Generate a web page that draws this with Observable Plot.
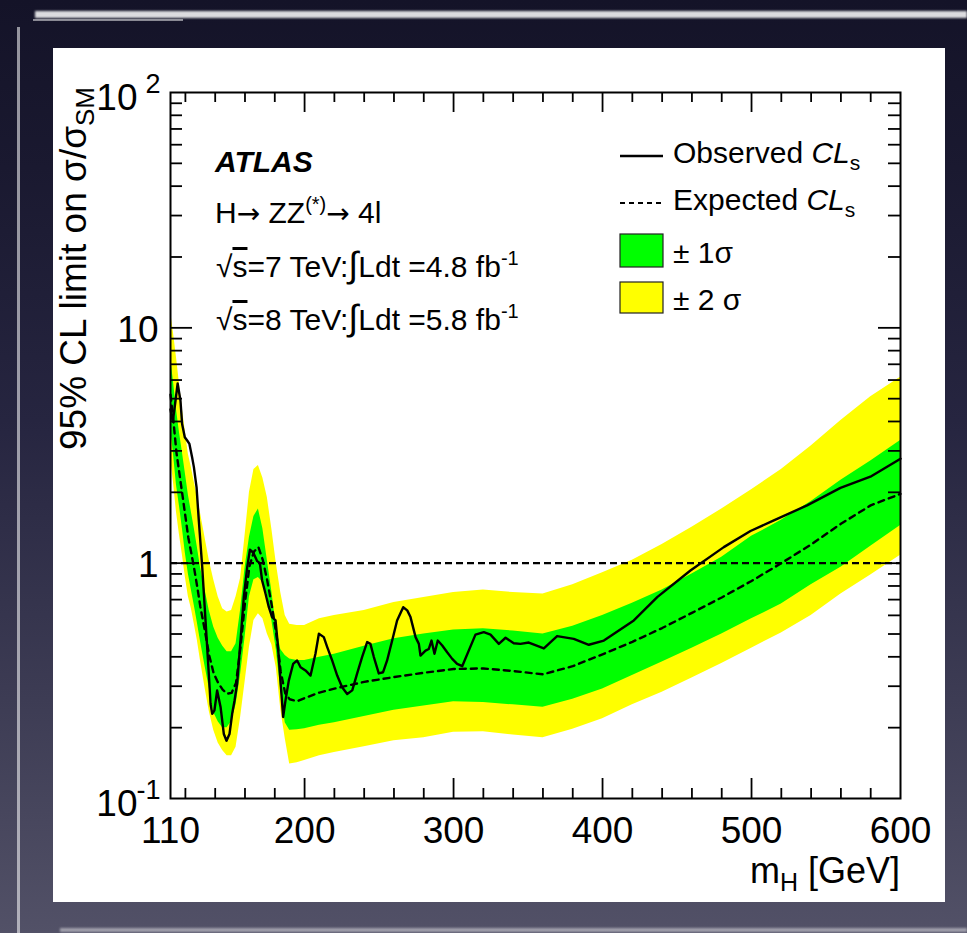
<!DOCTYPE html>
<html>
<head>
<meta charset="utf-8">
<script src="https://cdn.jsdelivr.net/npm/d3@7"></script>
<script src="https://cdn.jsdelivr.net/npm/@observablehq/plot@0.6"></script>
<style>
  html, body { margin: 0; padding: 0; }
  body {
    width: 967px; height: 933px; overflow: hidden; position: relative;
    background: linear-gradient(180deg, #141328 0%, #1a1930 18%, #262540 45%, #3d3c54 75%, #525167 100%);
    font-family: "Liberation Sans", Arial, Helvetica, sans-serif;
  }
  .chalk { position: absolute; background: #fff; }
  #panel { position: absolute; left: 53px; top: 48px; width: 892px; height: 854px; background: #fff; }
  #chart { position: absolute; left: 0; top: 0; width: 967px; height: 933px; }
</style>
</head>
<body>
<div class="chalk" style="left:35px; top:11px; width:932px; height:7px; opacity:.85; filter:blur(1px)"></div>
<div class="chalk" style="left:33px; top:19px; width:150px; height:2px; opacity:.5; filter:blur(.6px)"></div>
<div class="chalk" style="left:17px; top:27px; width:3px; height:906px; opacity:.55; filter:blur(.7px)"></div>
<div class="chalk" style="left:60px; top:928px; width:907px; height:4px; opacity:.45; filter:blur(1px)"></div>
<div id="panel"></div>
<div id="chart"></div>
<script>
// Higgs mass grid (GeV) on which the expected limit and its bands are sampled
const bandMass = [110,112,114,116,118,120,122,124,126,128,130,133,136,139,142,145,148,151,154,157,
  160,163,166,169,172,175,178,181,184,187,190,195,200,210,220,240,260,280,300,320,
  340,360,380,400,420,440,460,480,500,520,540,560,580,600];

// Expected 95% CL limit on sigma/sigma_SM (median)
const expectedLimit = [5.2,4.0,2.95,2.4,1.95,1.58,1.28,1.1,0.94,0.79,0.655,0.52,0.405,0.34,0.31,0.29,0.279,0.281,0.31,0.44,
  0.68,0.97,1.12,1.17,1.03,0.84,0.66,0.50,0.345,0.28,0.264,0.259,0.267,0.282,0.293,0.313,0.328,0.342,0.355,0.357,
  0.348,0.337,0.365,0.41,0.463,0.53,0.615,0.715,0.84,1.0,1.2,1.47,1.76,1.97];

// ±1 sigma band edges
const band1Low = [3.78,2.9,2.15,1.75,1.40,1.10,0.90,0.77,0.66,0.56,0.47,0.37,0.295,0.232,0.212,0.2,0.2,0.213,0.25,0.335,
  0.48,0.72,0.85,0.87,0.83,0.735,0.57,0.43,0.29,0.21,0.195,0.196,0.198,0.205,0.21,0.223,0.237,0.247,0.258,0.256,
  0.25,0.244,0.264,0.292,0.333,0.38,0.435,0.50,0.58,0.67,0.81,0.962,1.18,1.445];
const band1High = [7.5,5.9,4.5,3.6,2.95,2.4,1.95,1.65,1.4,1.17,0.97,0.78,0.63,0.535,0.48,0.445,0.42,0.42,0.455,0.63,
  0.95,1.29,1.58,1.70,1.40,1.03,0.76,0.54,0.43,0.405,0.392,0.386,0.386,0.398,0.41,0.444,0.477,0.50,0.52,0.526,
  0.515,0.50,0.54,0.60,0.675,0.77,0.90,1.06,1.30,1.52,1.83,2.25,2.72,3.32];

// ±2 sigma band edges
const band2Low = [2.82,2.2,1.65,1.32,1.08,0.87,0.72,0.64,0.55,0.47,0.39,0.30,0.235,0.195,0.172,0.16,0.152,0.152,0.165,0.22,
  0.31,0.44,0.571,0.61,0.58,0.5,0.45,0.36,0.24,0.18,0.14,0.142,0.145,0.152,0.157,0.166,0.176,0.181,0.191,0.192,
  0.186,0.181,0.197,0.218,0.25,0.283,0.325,0.375,0.435,0.505,0.6,0.74,0.89,1.08];
const band2High = [11.8,9.5,7.5,5.8,4.5,3.6,2.9,2.55,2.2,1.92,1.65,1.3,1.03,0.85,0.72,0.64,0.62,0.63,0.72,0.86,
  1.3,2.0,2.5,2.6,2.3,1.9,1.4,1.0,0.75,0.6,0.55,0.543,0.543,0.58,0.60,0.63,0.68,0.715,0.75,0.77,
  0.75,0.74,0.81,0.91,1.03,1.2,1.42,1.7,2.05,2.5,3.15,4.04,5.1,6.17];

// Observed limit
const observedMass = [110,111.5,113,114.8,116.7,117.8,119.6,121.2,122.7,124.5,
  125.7,127.5,129,131.3,133.5,135.7,136.9,138,139.5,141.3,
  143.6,145.8,147.6,149.6,151.4,153,154.7,157,159.2,161.5,
  163.3,165.5,168.2,170,171.5,173.8,176,178.2,180.5,182,
  183.8,185.6,187.2,189.4,192.3,195,197.3,200.6,204,207.3,
  209.6,212.9,215.2,218.5,221.9,225.2,228.6,232,235.3,238.6,
  242,244.2,246.5,249.8,252.7,255.4,258.8,262.1,266.2,268.9,
  271.1,274.5,276.7,277.8,281.2,283.4,285.2,287.2,289.4,292.4,
  295.7,299.1,302.4,305.8,314.7,320.3,324.8,330.4,334.9,340.4,
  344.9,350.5,360.6,369.5,380.7,390.8,400.9,421,436.7,459,
  481.4,499.3,515,537.3,559.7,579.8,600];
const observedLimit = [4.5,4.0,4.7,5.8,4.9,3.9,3.43,3.32,3.21,2.82,
  2.56,2.1,1.52,0.962,0.571,0.339,0.252,0.229,0.237,0.288,
  0.245,0.188,0.176,0.188,0.229,0.261,0.307,0.469,0.717,0.962,
  1.14,1.11,1.02,1.0,0.844,0.741,0.65,0.59,0.571,0.454,
  0.317,0.222,0.261,0.317,0.373,0.386,0.361,0.35,0.333,0.412,
  0.501,0.485,0.44,0.386,0.333,0.297,0.278,0.288,0.34,0.399,
  0.462,0.454,0.399,0.34,0.344,0.386,0.469,0.571,0.65,0.63,
  0.59,0.485,0.454,0.405,0.425,0.432,0.469,0.412,0.469,0.447,
  0.418,0.392,0.373,0.365,0.497,0.509,0.497,0.454,0.482,0.457,
  0.454,0.46,0.434,0.49,0.477,0.45,0.469,0.571,0.717,0.931,
  1.17,1.37,1.52,1.76,2.09,2.33,2.78];

// Axis ticks and labels
const xTickLabels = [110, 200, 300, 400, 500, 600];
const xMajorTicks = [200, 300, 400, 500];
const yTickValues = [0.1, 1, 10, 100];
const yTickBase = ["10", "1", "10", "10"];
const yTickExp = ["-1", "", "", "2"];

const FONT = '"Liberation Sans", Arial, Helvetica, sans-serif';
const SYMBOL_FONT = '"DejaVu Sans", sans-serif';
const W = 967, H = 933, ML = 170, MR = 67, MT = 92, MB = 135;
const innerW = W - ML - MR, innerH = H - MT - MB;

const bands = bandMass.map((m, i) => ({
  m, exp: expectedLimit[i], lo1: band1Low[i], hi1: band1High[i], lo2: band2Low[i], hi2: band2High[i]
}));
const observed = observedMass.map((m, i) => ({m, v: observedLimit[i]}));
const yLabels = yTickValues.map((v, i) => ({v, base: yTickBase[i], exp: yTickExp[i]}));

const xMinorTicks = d3.range(120, 600, 20).filter(d => !xMajorTicks.includes(d));
const yMajorTicks = [1, 10];
const yMinorTicks = [0.1, 1, 10].flatMap(d => d3.range(2, 10).map(k => k * d));

const tickStyle = {stroke: "black", strokeWidth: 1.8};

const chart = Plot.plot({
  width: W, height: H,
  marginTop: MT, marginRight: MR, marginBottom: MB, marginLeft: ML,
  style: {background: "transparent", fontFamily: FONT, color: "black", overflow: "visible"},
  x: {type: "linear", domain: [110, 600]},
  y: {type: "log", domain: [0.1, 100], axis: null},
  marks: [
    Plot.areaY(bands, {x: "m", y1: "lo2", y2: "hi2", fill: "#ffff00"}),
    Plot.areaY(bands, {x: "m", y1: "lo1", y2: "hi1", fill: "#00ff00"}),
    Plot.line(bands, {x: "m", y: "exp", stroke: "black", strokeWidth: 2.4, strokeDasharray: "6,5"}),
    Plot.line(observed, {x: "m", y: "v", stroke: "black", strokeWidth: 2.4, strokeLinejoin: "round"}),
    Plot.ruleY([1], {stroke: "black", strokeWidth: 2.2, strokeDasharray: "7,4"}),
    // inward ticks on all four sides
    Plot.tickX(xMajorTicks, {x: d => d, ...tickStyle, insetTop: innerH - 20}),
    Plot.tickX(xMinorTicks, {x: d => d, ...tickStyle, insetTop: innerH - 10}),
    Plot.tickX(xMajorTicks, {x: d => d, ...tickStyle, insetBottom: innerH - 20}),
    Plot.tickX(xMinorTicks, {x: d => d, ...tickStyle, insetBottom: innerH - 10}),
    Plot.tickY(yMajorTicks, {y: d => d, ...tickStyle, insetRight: innerW - 22}),
    Plot.tickY(yMinorTicks, {y: d => d, ...tickStyle, insetRight: innerW - 12}),
    Plot.tickY(yMajorTicks, {y: d => d, ...tickStyle, insetLeft: innerW - 22}),
    Plot.tickY(yMinorTicks, {y: d => d, ...tickStyle, insetLeft: innerW - 12}),
    Plot.frame({stroke: "black", strokeWidth: 2}),
    Plot.axisX(xTickLabels, {tickSize: 0, tickPadding: 18, fontSize: 37, label: null, tickFormat: d => String(d)}),
    // y tick labels, with powers of ten written as base + raised exponent
    Plot.text(yLabels.filter(d => !d.exp), {y: "v", text: "base", frameAnchor: "left", textAnchor: "end", dx: -12, dy: 2, fontSize: 37}),
    Plot.text(yLabels.filter(d => d.exp), {y: "v", text: "base", frameAnchor: "left", textAnchor: "end", dx: -33, dy: 6, fontSize: 37}),
    Plot.text(yLabels.filter(d => d.exp), {y: "v", text: "exp", frameAnchor: "left", textAnchor: "end", dx: -10, dy: -8, fontSize: 27})
  ]
});
document.getElementById("chart").append(chart);

// Titles, annotations and legend with sub/superscripts
const svg = d3.select(chart);
function richText(x, y, parts, attrs = {}) {
  const t = svg.append("text").attr("x", x).attr("y", y)
    .attr("font-family", FONT).attr("fill", "black").attr("font-size", 30)
    .attr("text-anchor", "start");
  for (const [k, v] of Object.entries(attrs)) t.attr(k, v);
  for (const p of parts) {
    const s = t.append("tspan").text(p.text);
    if (p.dy) s.attr("dy", p.dy);
    if (p.size) s.attr("font-size", p.size);
    if (p.italic) s.attr("font-style", "italic");
    if (p.overline) s.attr("text-decoration", "overline");
    if (p.symbol) s.attr("font-family", SYMBOL_FONT);
  }
  return t;
}

richText(0, 0, [{text: "95% CL limit on σ/σ"}, {text: "SM", size: 26, dy: 8}],
  {transform: "translate(86,87) rotate(-90)", "text-anchor": "end", "font-size": 37});
richText(900, 883, [{text: "m"}, {text: "H", size: 25, dy: 8}, {text: " [GeV]", size: 36, dy: -8}],
  {"text-anchor": "end", "font-size": 36});

richText(215, 172, [{text: "ATLAS"}], {"font-weight": "bold", "font-style": "italic"});
richText(215, 223, [{text: "H"}, {text: "→", symbol: true, size: 28}, {text: " ZZ"}, {text: "(*)", size: 20, dy: -12},
  {text: "→", symbol: true, size: 28, dy: 12}, {text: " 4l"}]);
richText(216, 277, [{text: "√"}, {text: "s", overline: true}, {text: "=7 TeV:"}, {text: "∫", size: 36},
  {text: "Ldt =4.8 fb"}, {text: "-1", size: 20, dy: -12}]);
richText(216, 330, [{text: "√"}, {text: "s", overline: true}, {text: "=8 TeV:"}, {text: "∫", size: 36},
  {text: "Ldt =5.8 fb"}, {text: "-1", size: 20, dy: -12}]);

// legend
svg.append("line").attr("x1", 620).attr("x2", 663).attr("y1", 156).attr("y2", 156)
  .attr("stroke", "black").attr("stroke-width", 2.4);
svg.append("line").attr("x1", 620).attr("x2", 663).attr("y1", 203).attr("y2", 203)
  .attr("stroke", "black").attr("stroke-width", 2.2).attr("stroke-dasharray", "5,4");
svg.append("rect").attr("x", 620).attr("y", 234).attr("width", 43).attr("height", 33)
  .attr("fill", "#00ff00").attr("stroke", "#222").attr("stroke-width", 1.2);
svg.append("rect").attr("x", 620).attr("y", 282).attr("width", 43).attr("height", 31)
  .attr("fill", "#ffff00").attr("stroke", "#222").attr("stroke-width", 1.2);
richText(673, 163, [{text: "Observed "}, {text: "CL", italic: true}, {text: "s", size: 21, dy: 7}]);
richText(673, 210, [{text: "Expected "}, {text: "CL", italic: true}, {text: "s", size: 21, dy: 7}]);
richText(673, 263, [{text: "± 1σ"}]);
richText(673, 310, [{text: "± 2 σ"}]);
</script>
</body>
</html>
